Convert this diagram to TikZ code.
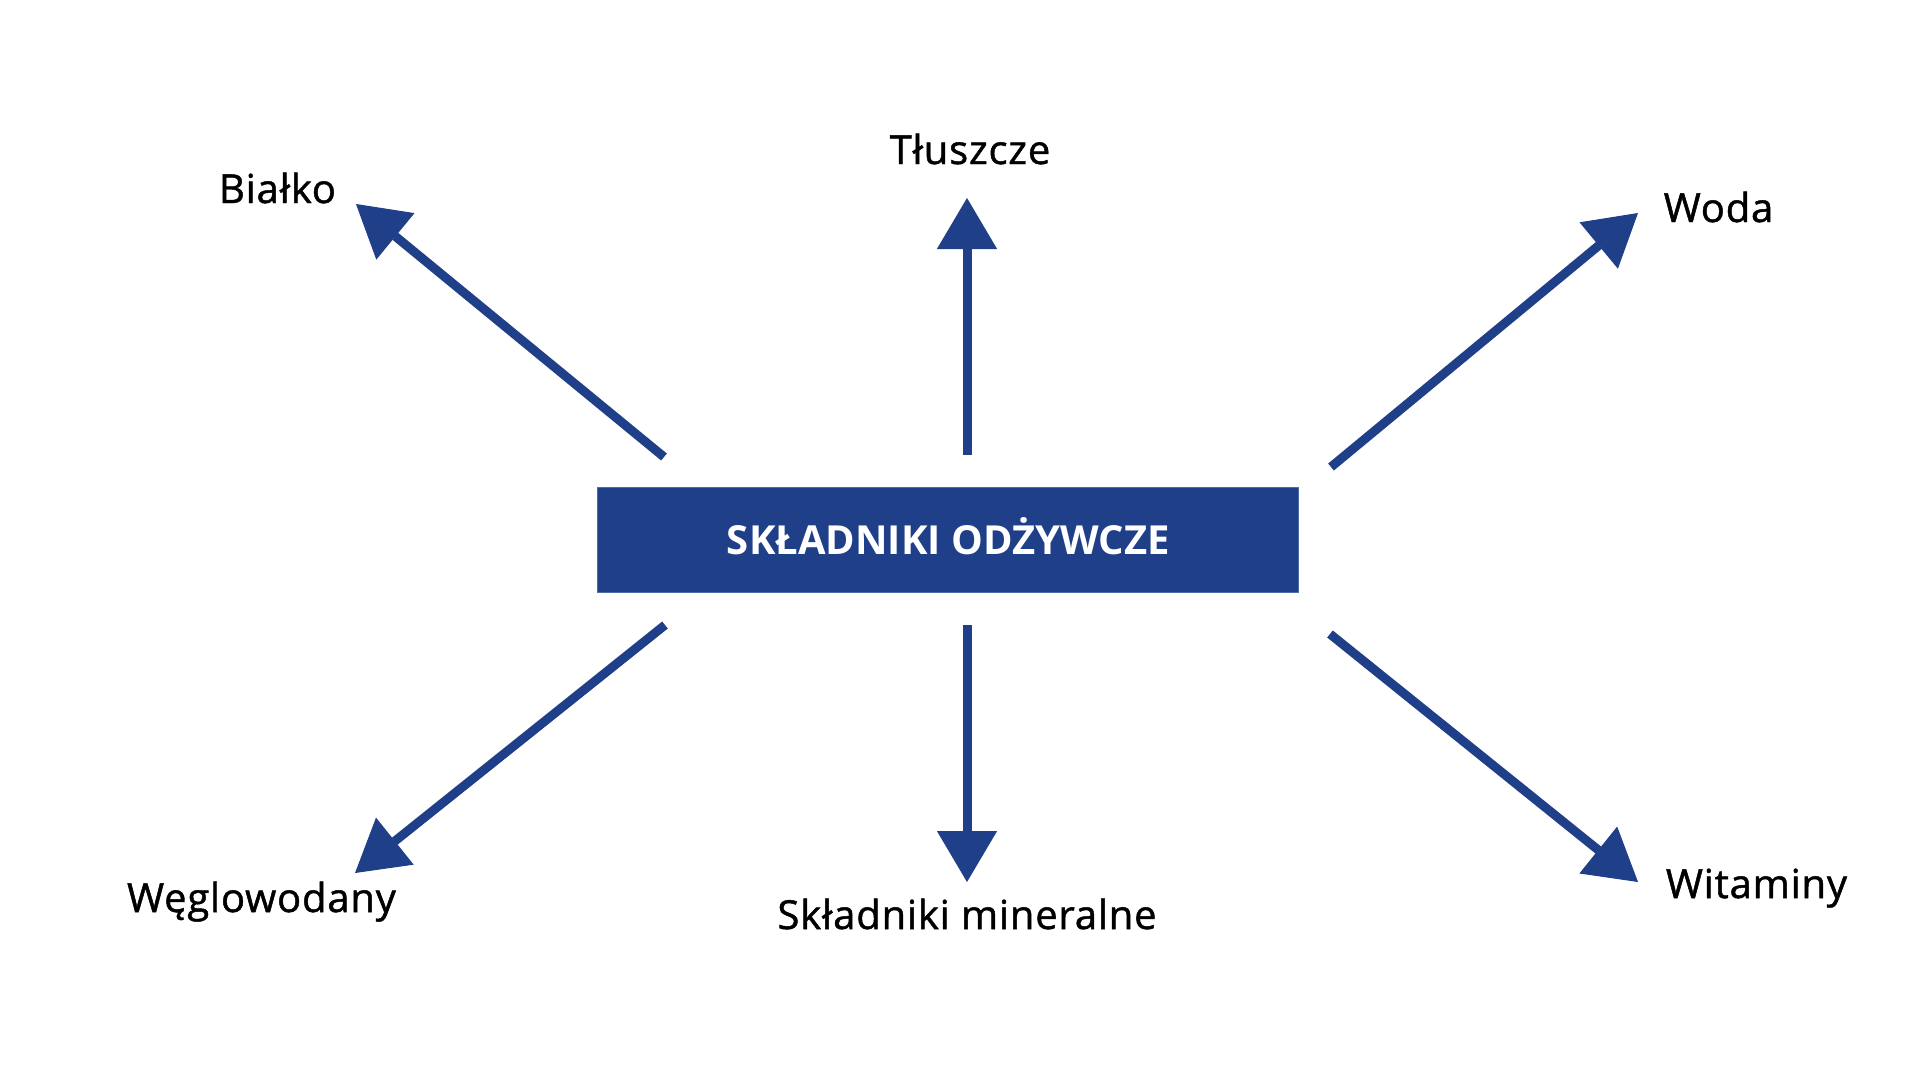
\documentclass[tikz,border=0pt]{standalone}
\usepackage{fontspec}
\setmainfont{Open Sans}
\newfontfamily\lblfont{Open Sans}[FakeBold=1.2,LetterSpace=2.0]
\usetikzlibrary{arrows.meta}
\definecolor{navy}{HTML}{1F3F88}
\definecolor{navyedge}{HTML}{4C6CAC}
\tikzset{
  mainbox/.style={fill=navy, draw=navyedge, line width=1pt, inner sep=0pt,
    minimum width=701pt, minimum height=105pt, text=white,
    font=\fontsize{40}{48}\selectfont\bfseries, text height=28.5pt, text depth=0pt},
  lbl/.style={anchor=base, text=black, inner sep=0pt, font=\lblfont\fontsize{40}{48}\selectfont},
  arr/.style={draw=navy, line width=9pt, line cap=butt,
    -{Triangle[length=51pt,width=60pt,line width=1pt]}}
}
\begin{document}
\begin{tikzpicture}[x=1pt,y=-1pt]
\useasboundingbox (0,0) rectangle (1920,1080);
\node[mainbox] (main) at (948.4,539.8) {SKŁADNIKI ODŻYWCZE};
% labels
\node[lbl] (bialko) at (277.5,203) {Białko};
\node[lbl] (tluszcze) at (970,164) {Tłuszcze};
\node[lbl] (woda) at (1718.5,222) {Woda};
\node[lbl] (wegl) at (261.5,912) {Węglowodany};
\node[lbl] (mineral) at (967,929) {Składniki mineralne};
\node[lbl] (witaminy) at (1756.5,898) {Witaminy};
% arrow ends
\coordinate (t1) at (664,457); \coordinate (h1) at (356,204);
\coordinate (t2) at (967,455); \coordinate (h2) at (967,198);
\coordinate (t3) at (1331,467); \coordinate (h3) at (1638,213);
\coordinate (t4) at (665,625); \coordinate (h4) at (355,873);
\coordinate (t5) at (967,625); \coordinate (h5) at (967,882);
\coordinate (t6) at (1330,634); \coordinate (h6) at (1638,882);
\draw[arr] (t1) -- (h1);
\draw[arr] (t2) -- (h2);
\draw[arr] (t3) -- (h3);
\draw[arr] (t4) -- (h4);
\draw[arr] (t5) -- (h5);
\draw[arr] (t6) -- (h6);
\end{tikzpicture}
\end{document}
